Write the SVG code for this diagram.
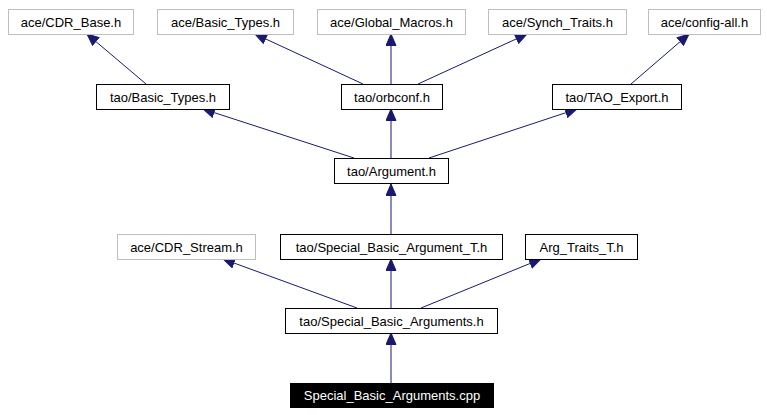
<svg xmlns="http://www.w3.org/2000/svg" width="767" height="415" viewBox="0 0 767 415">
<style>
  .n rect { fill: #ffffff; stroke: #000000; stroke-width: 1; }
  .g rect { fill: #ffffff; stroke: #bfbfbf; stroke-width: 1; }
  .k rect { fill: #000000; stroke: #000000; stroke-width: 1; }
  text { font-family: "Liberation Sans", Arial, Helvetica, sans-serif; font-size: 13px; text-anchor: middle; fill: #000000; }
  .k text { fill: #ffffff; }
  .e line { stroke: #191970; stroke-width: 1; fill: none; marker-end: url(#ah); }
</style>
<defs>
  <marker id="ah" markerUnits="userSpaceOnUse" markerWidth="14" markerHeight="12" refX="12" refY="5.5" orient="auto">
    <path d="M0.5,0.5 L12,5.5 L0.5,10.5 Z" fill="#191970" stroke="#191970" stroke-width="1"/>
  </marker>
</defs>
<rect width="767" height="415" fill="#ffffff"/>
<g id="edges" class="e">
  <line x1="146" y1="84" x2="87" y2="34"/>
  <line x1="363" y1="84" x2="255" y2="34"/>
  <line x1="391" y1="84" x2="391" y2="34"/>
  <line x1="418" y1="84" x2="527" y2="34"/>
  <line x1="631" y1="84" x2="689" y2="34"/>
  <line x1="354" y1="158" x2="203" y2="109"/>
  <line x1="391" y1="158" x2="391" y2="109"/>
  <line x1="429" y1="158" x2="577" y2="109"/>
  <line x1="391" y1="234" x2="391" y2="184"/>
  <line x1="357" y1="308" x2="223" y2="259"/>
  <line x1="391" y1="308" x2="391" y2="259"/>
  <line x1="421" y1="308" x2="541" y2="259"/>
  <line x1="391" y1="383" x2="391" y2="333"/>
</g>
<g id="n_ace_cdr_base" class="g"><rect x="8.5" y="9.5" width="125" height="25"/><text x="71" y="26.5">ace/CDR_Base.h</text></g>
<g id="n_ace_basic_types" class="g"><rect x="157.5" y="9.5" width="136" height="25"/><text x="225.5" y="26.5">ace/Basic_Types.h</text></g>
<g id="n_ace_global_macros" class="g"><rect x="317.5" y="9.5" width="148" height="25"/><text x="391.5" y="26.5">ace/Global_Macros.h</text></g>
<g id="n_ace_synch_traits" class="g"><rect x="488.5" y="9.5" width="138" height="25"/><text x="557.5" y="26.5">ace/Synch_Traits.h</text></g>
<g id="n_ace_config_all" class="g"><rect x="648.5" y="9.5" width="112" height="25"/><text x="704.5" y="26.5">ace/config-all.h</text></g>
<g id="n_tao_basic_types" class="n"><rect x="96.5" y="84.5" width="133" height="25"/><text x="163" y="101.5">tao/Basic_Types.h</text></g>
<g id="n_tao_orbconf" class="n"><rect x="341.5" y="84.5" width="101" height="25"/><text x="392" y="101.5">tao/orbconf.h</text></g>
<g id="n_tao_tao_export" class="n"><rect x="552.5" y="84.5" width="129" height="25"/><text x="617" y="101.5">tao/TAO_Export.h</text></g>
<g id="n_tao_argument" class="n"><rect x="334.5" y="158.5" width="114" height="25"/><text x="391.5" y="175.5">tao/Argument.h</text></g>
<g id="n_ace_cdr_stream" class="g"><rect x="117.5" y="234.5" width="138" height="25"/><text x="186.5" y="251.5">ace/CDR_Stream.h</text></g>
<g id="n_tao_sba_t" class="n"><rect x="280.5" y="234.5" width="222" height="25"/><text x="391.5" y="251.5">tao/Special_Basic_Argument_T.h</text></g>
<g id="n_arg_traits_t" class="n"><rect x="525.5" y="234.5" width="112" height="25"/><text x="581.5" y="251.5">Arg_Traits_T.h</text></g>
<g id="n_tao_sba_h" class="n"><rect x="285.5" y="308.5" width="212" height="25"/><text x="391.5" y="325.5">tao/Special_Basic_Arguments.h</text></g>
<g id="n_sba_cpp" class="k"><rect x="290.5" y="383.5" width="203" height="24"/><text x="392" y="400">Special_Basic_Arguments.cpp</text></g>
</svg>
